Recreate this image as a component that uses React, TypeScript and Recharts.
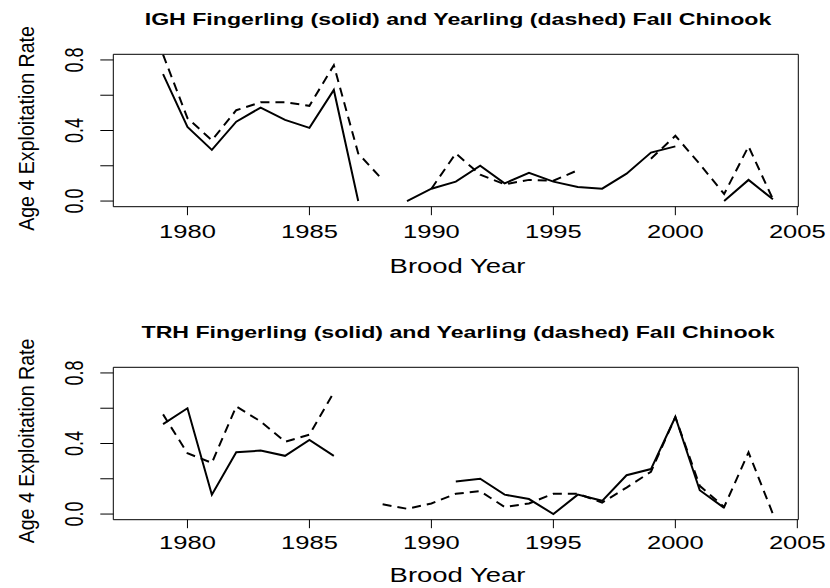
import React from 'react';
import { LineChart, Line, XAxis, YAxis, ReferenceArea } from 'recharts';

const years = [1979, 1980, 1981, 1982, 1983, 1984, 1985, 1986, 1987, 1988, 1989, 1990, 1991, 1992, 1993, 1994, 1995, 1996, 1997, 1998, 1999, 2000, 2001, 2002, 2003, 2004];

const ighFingerling = [0.72, 0.42, 0.29, 0.45, 0.53, 0.46, 0.415, 0.63, 0.0, null, 0.0, 0.07, 0.11, 0.2, 0.1, 0.16, 0.11, 0.08, 0.07, 0.155, 0.275, 0.31, null, 0.0, 0.12, 0.01];
const ighYearling = [0.83, 0.47, 0.345, 0.515, 0.56, 0.56, 0.54, 0.77, 0.27, 0.12, null, 0.07, 0.27, 0.15, 0.095, 0.12, 0.115, 0.175, null, null, 0.24, 0.37, 0.21, 0.04, 0.31, 0.01];

const trhFingerling = [0.51, 0.6, 0.11, 0.35, 0.36, 0.33, 0.42, 0.33, null, null, null, null, 0.185, 0.2, 0.11, 0.085, 0.0, 0.11, 0.075, 0.22, 0.255, 0.55, 0.135, 0.035, null, null];
const trhYearling = [0.565, 0.345, 0.29, 0.61, 0.525, 0.41, 0.45, 0.69, null, 0.055, 0.03, 0.06, 0.115, 0.13, 0.04, 0.06, 0.115, 0.115, 0.065, 0.15, 0.24, 0.55, 0.16, 0.04, 0.35, 0.0];

const xTicks = [1980, 1985, 1990, 1995, 2000, 2005];
const yTicks = [0, 0.2, 0.4, 0.6, 0.8];
const yTickLabels: Record<string, string> = { '0': '0.0', '0.4': '0.4', '0.8': '0.8' };

const titles = [
  'IGH Fingerling (solid) and Yearling (dashed) Fall Chinook',
  'TRH Fingerling (solid) and Yearling (dashed) Fall Chinook',
];
const xLabel = 'Brood Year';
const yLabel = 'Age 4 Exploitation Rate';

const FONT = '"Liberation Sans", Arial, Helvetica, sans-serif';
const X_DOMAIN: [number, number] = [1976.96, 2005.04];
const Y_DOMAIN: [number, number] = [-0.032, 0.832];
const PANEL_OFFSET = 312.5;
const TICK_BASELINE = [238, 235.5];
const XLABEL_BASELINE = [273, 582];

function build(sol: (number | null)[], dash: (number | null)[]) {
  return years.map((year, i) => ({ year, solid: sol[i], dashed: dash[i] }));
}

const makeXTick = (baseline: number) => (props: any) => {
  const { x, payload } = props;
  return (
    <text
      transform={`translate(${x},${baseline}) scale(1.42,1)`}
      textAnchor="middle"
      fontFamily={FONT}
      fontSize={18}
      fill="#000"
    >
      {String(payload.value)}
    </text>
  );
};

const YTick = (props: any) => {
  const { y, payload } = props;
  const label = yTickLabels[String(payload.value)];
  if (!label) return <g />;
  return (
    <text
      transform={`translate(83.3,${y}) scale(1.4,1) rotate(-90)`}
      textAnchor="middle"
      fontFamily={FONT}
      fontSize={18}
      fill="#000"
    >
      {label}
    </text>
  );
};

function Panel({ data, idx }: { data: any[]; idx: number }) {
  return (
    <LineChart width={830} height={294} data={data} margin={{ top: 54.3, right: 31.7, bottom: 0, left: 0.3 }}>
      <XAxis
        dataKey="year"
        type="number"
        domain={X_DOMAIN}
        allowDataOverflow
        ticks={xTicks}
        interval={0}
        axisLine={false}
        tickLine={{ stroke: '#000', strokeWidth: 1 }}
        tickSize={8.5}
        height={87.3}
        tick={makeXTick(TICK_BASELINE[idx])}
      />
      <YAxis
        type="number"
        domain={Y_DOMAIN}
        allowDataOverflow
        ticks={yTicks}
        interval={0}
        width={113}
        axisLine={false}
        tickLine={{ stroke: '#000', strokeWidth: 1 }}
        tickSize={13}
        tick={YTick}
      />
      <ReferenceArea
        x1={X_DOMAIN[0]}
        x2={X_DOMAIN[1]}
        y1={Y_DOMAIN[0]}
        y2={Y_DOMAIN[1]}
        fill="none"
        fillOpacity={0}
        stroke="#000"
        strokeWidth={1}
        ifOverflow="visible"
      />
      <Line type="linear" dataKey="solid" stroke="#000" strokeWidth={2} dot={false} connectNulls={false} isAnimationActive={false} />
      <Line type="linear" dataKey="dashed" stroke="#000" strokeWidth={2} strokeDasharray="9 6" dot={false} connectNulls={false} isAnimationActive={false} />
    </LineChart>
  );
}

export default function App() {
  const panels = [build(ighFingerling, ighYearling), build(trhFingerling, trhYearling)];
  return (
    <div style={{ position: 'absolute', left: 0, top: 0, width: 830, height: 588, overflow: 'hidden', background: '#fff' }}>
      {panels.map((d, i) => (
        <div key={i} style={{ position: 'absolute', left: 0, top: i * PANEL_OFFSET, width: 830, height: 294 }}>
          <Panel data={d} idx={i} />
        </div>
      ))}
      <svg width={830} height={588} style={{ position: 'absolute', left: 0, top: 0, pointerEvents: 'none' }}>
        {titles.map((t, i) => {
          const off = i * PANEL_OFFSET;
          return (
            <g key={i}>
              <text
                transform={`translate(458,${25 + off}) scale(1.42,1)`}
                textAnchor="middle"
                fontFamily={FONT}
                fontWeight="bold"
                fontSize={16.3}
                fill="#000"
              >
                {t}
              </text>
              <text
                transform={`translate(457.5,${XLABEL_BASELINE[i]}) scale(1.34,1)`}
                textAnchor="middle"
                fontFamily={FONT}
                fontSize={20.5}
                fill="#000"
              >
                {xLabel}
              </text>
              <text
                transform={`translate(33.5,${128.5 + off}) scale(1.1,1) rotate(-90)`}
                textAnchor="middle"
                fontFamily={FONT}
                fontSize={19.6}
                fill="#000"
              >
                {yLabel}
              </text>
            </g>
          );
        })}
      </svg>
    </div>
  );
}
